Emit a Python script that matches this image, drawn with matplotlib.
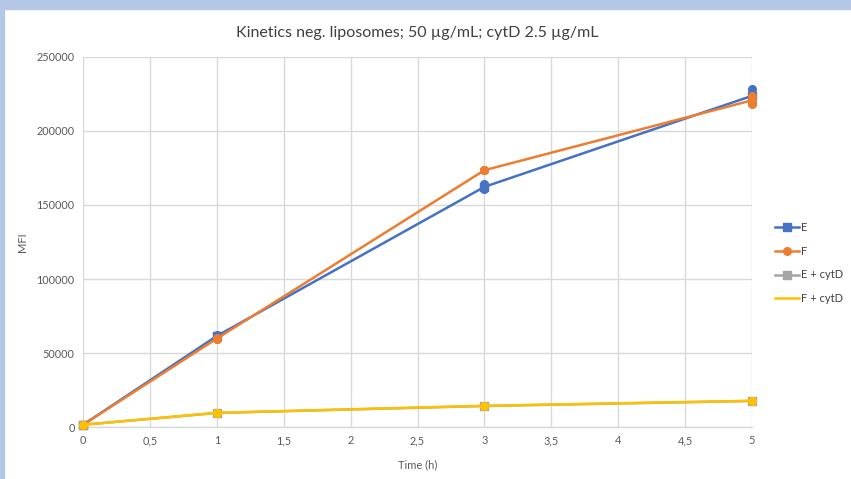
import matplotlib.pyplot as plt
from matplotlib.lines import Line2D
from matplotlib.patches import Rectangle

plt.rcParams['font.family'] = ['Lato', 'DejaVu Sans']

time_h = [0, 1, 3, 5]
# replicate readings per time point
e_reps = [[1500, 1500], [61000, 62000], [160500, 164000], [219000, 228500]]
f_reps = [[1500, 1500], [59500, 60000], [173500, 173500], [218000, 223500]]
e_cyt = [1500, 9500, 14200, 17600]
f_cyt = [1500, 9600, 14300, 17700]

x_ticks = [0, 0.5, 1, 1.5, 2, 2.5, 3, 3.5, 4, 4.5, 5]
x_tick_labels = ["0", "0,5", "1", "1,5", "2", "2,5", "3", "3,5", "4", "4,5", "5"]
y_ticks = [0, 50000, 100000, 150000, 200000, 250000]

blue, orange, gray, yellow = "#4472C4", "#ED7D31", "#A5A5A5", "#FFC000"

fig = plt.figure(figsize=(8.51, 4.79), dpi=100)
ax = fig.add_axes([83 / 851, 1 - 427 / 479, (752 - 83) / 851, (427 - 57) / 479])

# selection frame around the chart
fig.patches.append(Rectangle((0, 1 - 9 / 479), 1, 9 / 479, transform=fig.transFigure,
                             color="#B4C7E7", zorder=0))
fig.patches.append(Rectangle((0, 0), 4 / 851, 1, transform=fig.transFigure,
                             color="#B4C7E7", zorder=0))

def mean(v):
    return sum(v) / len(v)

e_mean = [mean(r) for r in e_reps]
f_mean = [mean(r) for r in f_reps]

ms = 5.5
ax.plot(time_h, e_mean, color=blue, lw=1.8, marker="s", ms=ms, zorder=3, clip_on=False)
for t, r in zip(time_h, e_reps):
    ax.plot([t] * len(r), r, ls="none", marker="o", color=blue, ms=ms, zorder=3, clip_on=False)
ax.plot(time_h, f_mean, color=orange, lw=1.8, marker="o", ms=ms, zorder=4, clip_on=False)
for t, r in zip(time_h, f_reps):
    ax.plot([t] * len(r), r, ls="none", marker="o", color=orange, ms=ms, zorder=4, clip_on=False)
ax.plot(time_h, e_cyt, color=gray, lw=1.8, marker="s", ms=ms, zorder=3, clip_on=False)
ax.plot(time_h, f_cyt, color=yellow, lw=1.8, marker="o", ms=ms, zorder=4, clip_on=False)

ax.set_xlim(0, 5)
ax.set_ylim(0, 250000)
ax.set_xticks(x_ticks)
ax.set_xticklabels(x_tick_labels)
ax.set_yticks(y_ticks)
ax.grid(True, color="#D9D9D9", lw=1)
ax.set_axisbelow(True)
for s in ["top", "right", "left"]:
    ax.spines[s].set_visible(False)
ax.spines["bottom"].set_color("#D9D9D9")
ax.spines["bottom"].set_linewidth(1)
ax.tick_params(length=0, labelsize=7.8, colors="#595959", pad=6)
ax.set_xlabel("Time (h)", fontsize=8, color="#595959", labelpad=9)
ax.set_ylabel("MFI", fontsize=8, color="#595959", labelpad=6)
fig.suptitle("Kinetics neg. liposomes; 50 µg/mL; cytD 2.5 µg/mL",
             x=(83 + 752) / 2 / 851, y=1 - 33 / 479, va="center",
             fontsize=11.5, color="#404040")

handles = [
    Line2D([], [], color=blue, lw=1.8, marker="s", ms=ms),
    Line2D([], [], color=orange, lw=1.8, marker="o", ms=ms),
    Line2D([], [], color=gray, lw=1.8, marker="s", ms=ms),
    Line2D([], [], color=yellow, lw=1.8),
]
fig.legend(handles, ["E", "F", "E + cytD", "F + cytD"], loc="center left",
           bbox_to_anchor=(769 / 851, 1 - 263 / 479), frameon=False,
           fontsize=8, labelcolor="#404040", handlelength=2.2,
           handletextpad=0.15, labelspacing=1.15, borderpad=0)

fig.savefig("out.png", dpi=100)
